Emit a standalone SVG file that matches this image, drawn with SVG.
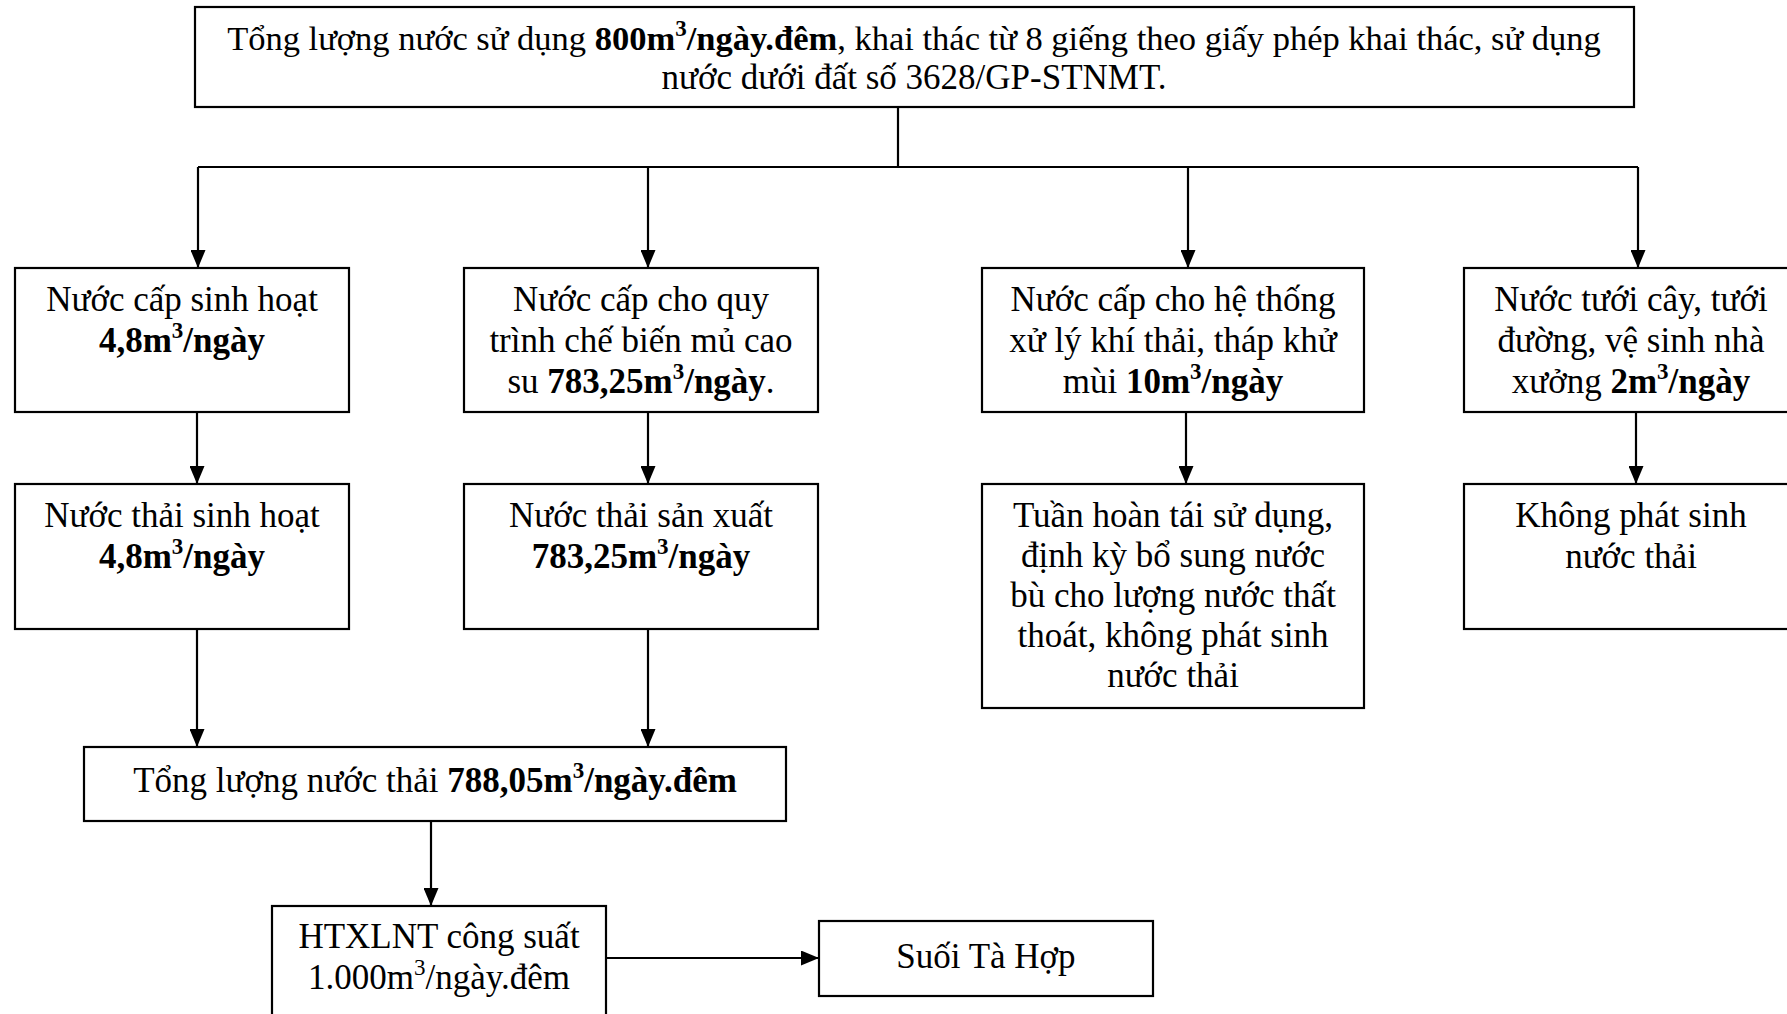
<svg xmlns="http://www.w3.org/2000/svg" width="1787" height="1014" viewBox="0 0 1787 1014">
  <defs>
    <marker id="arrow" markerWidth="18" markerHeight="15" refX="18" refY="7.5" orient="auto" markerUnits="userSpaceOnUse" viewBox="0 0 18 15">
      <path d="M0,0 L18,7.5 L0,15 Z" fill="#000"/>
    </marker>
    <style>
      .box { fill: #fff; stroke: #000; stroke-width: 2.2; }
      .conn { fill: none; stroke: #000; stroke-width: 2.2; }
      .arr { marker-end: url(#arrow); }
      text { font-family: "Liberation Serif", "Times New Roman", serif; font-size: 35px; fill: #000; text-anchor: middle; }
      .b { font-weight: bold; }
    </style>
  </defs>

  <rect width="1787" height="1014" fill="#fff"/>

  <!-- connectors -->
  <g id="connectors">
    <path class="conn" d="M898,107 V167 M198,167 H1638"/>
    <path class="conn arr" d="M198,167 V268"/>
    <path class="conn arr" d="M648,167 V268"/>
    <path class="conn arr" d="M1188,167 V268"/>
    <path class="conn arr" d="M1638,167 V268"/>
    <path class="conn arr" d="M197,412 V484"/>
    <path class="conn arr" d="M648,412 V484"/>
    <path class="conn arr" d="M1186,412 V484"/>
    <path class="conn arr" d="M1636,412 V484"/>
    <path class="conn arr" d="M197,629 V747"/>
    <path class="conn arr" d="M648,629 V747"/>
    <path class="conn arr" d="M431,821 V906"/>
    <path class="conn arr" d="M606,958 H819"/>
  </g>

  <!-- total water use -->
  <g id="n-total-supply">
    <rect class="box" x="195" y="7" width="1439" height="100"/>
    <text x="914" y="50" style="font-size:34.5px">Tổng lượng nước sử dụng <tspan class="b">800m</tspan><tspan class="b" font-size="23" dy="-14">3</tspan><tspan class="b" dy="14">/ngày.đêm</tspan>, khai thác từ 8 giếng theo giấy phép khai thác, sử dụng</text>
    <text x="914" y="89">nước dưới đất số 3628/GP-STNMT.</text>
  </g>

  <!-- supply branches -->
  <g id="n-domestic-supply">
    <rect class="box" x="15" y="268" width="334" height="144"/>
    <text x="182" y="311">Nước cấp sinh hoạt</text>
    <text x="182" y="352"><tspan class="b">4,8m</tspan><tspan class="b" font-size="23" dy="-14">3</tspan><tspan class="b" dy="14">/ngày</tspan></text>
  </g>

  <g id="n-process-supply">
    <rect class="box" x="464" y="268" width="354" height="144"/>
    <text x="641" y="311">Nước cấp cho quy</text>
    <text x="641" y="352">trình chế biến mủ cao</text>
    <text x="641" y="393">su <tspan class="b">783,25m</tspan><tspan class="b" font-size="23" dy="-14">3</tspan><tspan class="b" dy="14">/ngày</tspan>.</text>
  </g>

  <g id="n-exhaust-supply">
    <rect class="box" x="982" y="268" width="382" height="144"/>
    <text x="1173" y="311">Nước cấp cho hệ thống</text>
    <text x="1173" y="352">xử lý khí thải, tháp khử</text>
    <text x="1173" y="393">mùi <tspan class="b">10m</tspan><tspan class="b" font-size="23" dy="-14">3</tspan><tspan class="b" dy="14">/ngày</tspan></text>
  </g>

  <g id="n-irrigation-supply">
    <rect class="box" x="1464" y="268" width="335" height="144"/>
    <text x="1631" y="311">Nước tưới cây, tưới</text>
    <text x="1631" y="352">đường, vệ sinh nhà</text>
    <text x="1631" y="393">xưởng <tspan class="b">2m</tspan><tspan class="b" font-size="23" dy="-14">3</tspan><tspan class="b" dy="14">/ngày</tspan></text>
  </g>

  <!-- wastewater branches -->
  <g id="n-domestic-waste">
    <rect class="box" x="15" y="484" width="334" height="145"/>
    <text x="182" y="527">Nước thải sinh hoạt</text>
    <text x="182" y="568"><tspan class="b">4,8m</tspan><tspan class="b" font-size="23" dy="-14">3</tspan><tspan class="b" dy="14">/ngày</tspan></text>
  </g>

  <g id="n-process-waste">
    <rect class="box" x="464" y="484" width="354" height="145"/>
    <text x="641" y="527">Nước thải sản xuất</text>
    <text x="641" y="568"><tspan class="b">783,25m</tspan><tspan class="b" font-size="23" dy="-14">3</tspan><tspan class="b" dy="14">/ngày</tspan></text>
  </g>

  <g id="n-recirculation">
    <rect class="box" x="982" y="484" width="382" height="224"/>
    <text x="1173" y="527">Tuần hoàn tái sử dụng,</text>
    <text x="1173" y="567">định kỳ bổ sung nước</text>
    <text x="1173" y="607">bù cho lượng nước thất</text>
    <text x="1173" y="647">thoát, không phát sinh</text>
    <text x="1173" y="687">nước thải</text>
  </g>

  <g id="n-no-waste">
    <rect class="box" x="1464" y="484" width="335" height="145"/>
    <text x="1631" y="527">Không phát sinh</text>
    <text x="1631" y="568">nước thải</text>
  </g>

  <!-- total wastewater and treatment -->
  <g id="n-total-waste">
    <rect class="box" x="84" y="747" width="702" height="74"/>
    <text x="435" y="792">Tổng lượng nước thải <tspan class="b">788,05m</tspan><tspan class="b" font-size="23" dy="-14">3</tspan><tspan class="b" dy="14">/ngày.đêm</tspan></text>
  </g>

  <g id="n-treatment">
    <rect class="box" x="272" y="906" width="334" height="130"/>
    <text x="439" y="948">HTXLNT công suất</text>
    <text x="439" y="989">1.000m<tspan font-size="23" dy="-14">3</tspan><tspan dy="14">/ngày.đêm</tspan></text>
  </g>

  <g id="n-stream">
    <rect class="box" x="819" y="921" width="334" height="75"/>
    <text x="986" y="968">Suối Tà Hợp</text>
  </g>
</svg>
